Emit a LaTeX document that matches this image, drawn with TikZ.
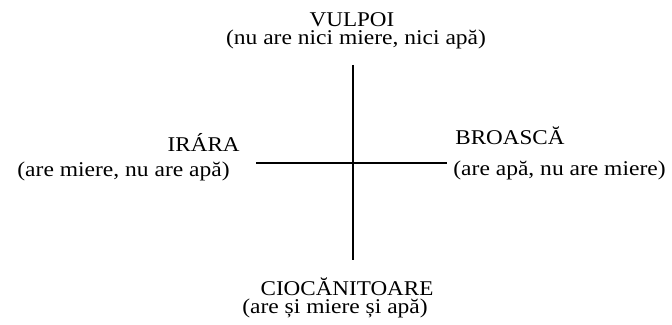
\documentclass[tikz,border=0pt]{standalone}
\usepackage{fontspec}
\setmainfont{Liberation Serif}
\newfontfamily\numefont[FakeStretch=1.1]{Liberation Serif}
\newfontfamily\notafont[FakeStretch=1.12]{Liberation Serif}
\begin{document}
\begin{tikzpicture}[
    x=0.5pt, y=-0.5pt,
    nume/.style={inner sep=0pt, font=\numefont\fontsize{10.5}{12}\selectfont},
    nota/.style={inner sep=0pt, font=\notafont\fontsize{10.5}{12}\selectfont},
    ax/.style={line width=1.1pt},
  ]

  \useasboundingbox (0,0) rectangle (672,325);

  % ---- crucea din mijloc ------------------------------------------------
  \coordinate (sus)   at (353,65);
  \coordinate (jos)   at (353,260);
  \coordinate (stg)   at (256,163);
  \coordinate (dr)    at (447,163);
  \draw[ax,line width=1.4pt] (sus) -- (jos);
  \draw[ax] (stg) -- (dr);

  % ---- sus: vulpoi -------------------------------------------------------
  \node[nume,anchor=base] (vulpoi) at (352,27) {VULPOI};
  \node[nota,anchor=base] (vulpoiN) at (356,45) {(nu are nici miere, nici apă)};

  % ---- stanga: irara -----------------------------------------------------
  \node[nume,anchor=base east] (irara) at (240,152) {IRÁRA};
  \node[nota,anchor=base east] (iraraN) at (230,177) {(are miere, nu are apă)};

  % ---- dreapta: broasca --------------------------------------------------
  \node[nume,anchor=base west] (broasca) at (455,145) {BROASCĂ};
  \node[nota,anchor=base west] (broascaN) at (453,176) {(are apă, nu are miere)};

  % ---- jos: ciocanitoare -------------------------------------------------
  \node[nume,anchor=base] (ciocan) at (347,295) {CIOCĂNITOARE};
  \node[nota,anchor=base] (ciocanN) at (335,313) {(are și miere și apă)};

\end{tikzpicture}
\end{document}
